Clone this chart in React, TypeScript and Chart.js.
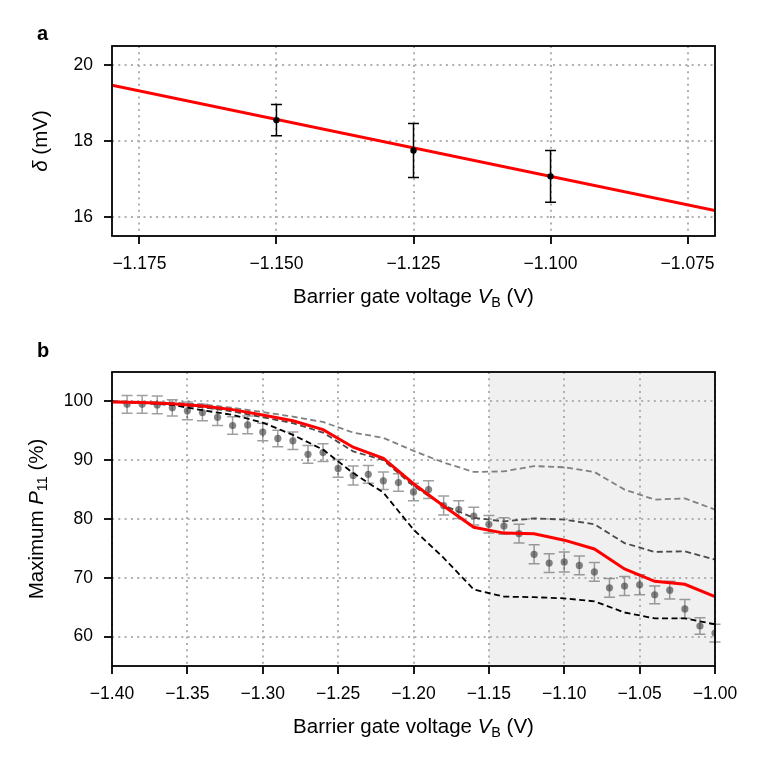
import { useEffect, useRef } from 'react'
import { Chart, registerables } from 'chart.js'

Chart.register(...registerables)

const FONT = '"Liberation Sans", Arial, Helvetica, sans-serif'

// panel a: level splitting vs barrier gate voltage
const aFitV = [-1.18, -1.07]
const aFitDelta = [19.47, 16.17]
const aMeasV = [-1.15, -1.125, -1.1]
const aMeasDelta = [18.55, 17.75, 17.07]
const aMeasErr = [0.41, 0.71, 0.68]
const aXTicks = [-1.175, -1.15, -1.125, -1.1, -1.075]
const aYTicks = [16, 18, 20]

// panel b: maximum P11 vs barrier gate voltage
const bModelV = [-1.4, -1.38, -1.36, -1.34, -1.32, -1.3, -1.28, -1.26, -1.24, -1.22, -1.2, -1.18, -1.16, -1.14, -1.12, -1.1, -1.08, -1.06, -1.04, -1.02, -1.0]
const bModelP = [99.9, 99.8, 99.6, 99.2, 98.6, 97.7, 96.7, 95.2, 92.2, 90.3, 86.0, 82.2, 78.6, 77.6, 77.5, 76.4, 74.9, 71.5, 69.4, 68.9, 66.8]
const bUpperP = [100.0, 99.9, 99.8, 99.5, 98.9, 98.2, 97.4, 96.5, 94.7, 93.8, 91.6, 89.6, 88.0, 88.1, 89.0, 88.8, 88.0, 85.0, 83.3, 83.5, 81.6]
const bMiddleP = [99.9, 99.7, 99.4, 99.0, 98.3, 97.3, 96.3, 94.7, 91.5, 90.0, 85.6, 82.3, 80.2, 79.6, 80.1, 79.9, 79.1, 75.9, 74.4, 74.5, 73.1]
const bLowerP = [100.0, 99.8, 99.4, 98.5, 97.7, 96.4, 94.3, 91.8, 87.8, 84.5, 78.2, 73.4, 68.0, 66.8, 66.7, 66.5, 66.0, 64.1, 63.1, 63.1, 62.1]
const bMeasV = [-1.39, -1.38, -1.37, -1.36, -1.35, -1.34, -1.33, -1.32, -1.31, -1.3, -1.29, -1.28, -1.27, -1.26, -1.25, -1.24, -1.23, -1.22, -1.21, -1.2, -1.19, -1.18, -1.17, -1.16, -1.15, -1.14, -1.13, -1.12, -1.11, -1.1, -1.09, -1.08, -1.07, -1.06, -1.05, -1.04, -1.03, -1.02, -1.01, -1.0]
const bMeasP = [99.5, 99.5, 99.4, 98.9, 98.4, 98.1, 97.3, 95.9, 96.0, 94.8, 93.7, 93.3, 91.0, 91.3, 88.6, 87.4, 87.6, 86.5, 86.2, 84.6, 85.0, 82.3, 81.6, 80.5, 79.1, 78.8, 77.5, 74.0, 72.5, 72.7, 72.1, 71.0, 68.3, 68.6, 68.8, 67.1, 67.9, 64.7, 61.8, 60.6]
const bMeasErr = [1.5, 1.5, 1.5, 1.4, 1.5, 1.4, 1.4, 1.5, 1.5, 1.5, 1.4, 1.5, 1.5, 1.5, 1.5, 1.6, 1.5, 1.5, 1.5, 1.5, 1.5, 1.6, 1.5, 1.5, 1.5, 1.4, 1.6, 1.6, 1.6, 1.7, 1.6, 1.6, 1.6, 1.6, 1.7, 1.5, 1.5, 1.6, 1.4, 1.5]
const bShade = [-1.15, -1.0]
const bXTicks = [-1.4, -1.35, -1.3, -1.25, -1.2, -1.15, -1.1, -1.05, -1.0]
const bYTicks = [60, 70, 80, 90, 100]

type Part = { t: string; s?: 'i' | 'sub' }

const xTitle: Part[] = [{ t: 'Barrier gate voltage ' }, { t: 'V', s: 'i' }, { t: 'B', s: 'sub' }, { t: ' (V)' }]
const aYTitle: Part[] = [{ t: 'δ', s: 'i' }, { t: ' (mV)' }]
const bYTitle: Part[] = [{ t: 'Maximum ' }, { t: 'P', s: 'i' }, { t: '11', s: 'sub' }, { t: ' (%)' }]

function drawRich(ctx: CanvasRenderingContext2D, parts: Part[], cx: number, cy: number, size: number, rotate: boolean) {
  const fontFor = (s?: string) =>
    s === 'i' ? `italic ${size}px ${FONT}` : s === 'sub' ? `${size * 0.7}px ${FONT}` : `${size}px ${FONT}`
  ctx.save()
  ctx.translate(cx, cy)
  if (rotate) ctx.rotate(-Math.PI / 2)
  let total = 0
  const widths = parts.map(p => {
    ctx.font = fontFor(p.s)
    const w = ctx.measureText(p.t).width
    total += w
    return w
  })
  let x = -total / 2
  ctx.fillStyle = '#000'
  ctx.textBaseline = 'middle'
  ctx.textAlign = 'left'
  parts.forEach((p, i) => {
    ctx.font = fontFor(p.s)
    ctx.fillText(p.t, x, p.s === 'sub' ? size * 0.3 : 0)
    x += widths[i]
  })
  ctx.restore()
}

function drawErrors(chart: Chart, xs: number[], ys: number[], errs: number[], color: string, cap: number) {
  const { ctx } = chart
  const x = chart.scales.x
  const y = chart.scales.y
  ctx.save()
  ctx.strokeStyle = color
  ctx.lineWidth = 1.5
  xs.forEach((v, i) => {
    const px = x.getPixelForValue(v)
    const top = y.getPixelForValue(ys[i] + errs[i])
    const bot = y.getPixelForValue(ys[i] - errs[i])
    ctx.beginPath()
    ctx.moveTo(px, top)
    ctx.lineTo(px, bot)
    ctx.moveTo(px - cap, top)
    ctx.lineTo(px + cap, top)
    ctx.moveTo(px - cap, bot)
    ctx.lineTo(px + cap, bot)
    ctx.stroke()
  })
  ctx.restore()
}

function fmt(digits: number) {
  return (v: number | string) => Number(v).toFixed(digits).replace('-', '\u2212')
}

function axes(xMin: number, xMax: number, xTicks: number[], xDigits: number, xHeight: number, yMin: number, yMax: number, yTicks: number[]) {
  const grid = {
    color: '#b0b0b0',
    lineWidth: 2,
    drawTicks: true,
    tickLength: 8,
    tickColor: '#000',
    tickWidth: 1.8,
    tickBorderDash: [],
  }
  const border = { display: false, dash: [2, 4.3] }
  const ticks = { color: '#000', font: { family: FONT, size: 17.5 }, maxRotation: 0, autoSkip: false }
  return {
    x: {
      type: 'linear' as const,
      min: xMin,
      max: xMax,
      grid,
      border,
      ticks: { ...ticks, padding: 10, callback: fmt(xDigits) },
      afterBuildTicks: (s: any) => { s.ticks = xTicks.map(value => ({ value })) },
      afterFit: (s: any) => { s.height = xHeight },
    },
    y: {
      type: 'linear' as const,
      min: yMin,
      max: yMax,
      grid,
      border,
      ticks: { ...ticks, padding: 11, callback: fmt(0) },
      afterBuildTicks: (s: any) => { s.ticks = yTicks.map(value => ({ value })) },
      afterFit: (s: any) => { s.width = 112 },
    },
  }
}

function frame(chart: Chart) {
  const { ctx, chartArea: a } = chart
  ctx.save()
  ctx.strokeStyle = '#000'
  ctx.lineWidth = 1.8
  ctx.strokeRect(a.left, a.top, a.right - a.left, a.bottom - a.top)
  ctx.restore()
}

function panelLabel(ctx: CanvasRenderingContext2D, text: string, x: number, y: number) {
  ctx.save()
  ctx.font = `bold 20px ${FONT}`
  ctx.fillStyle = '#000'
  ctx.textBaseline = 'alphabetic'
  ctx.fillText(text, x, y)
  ctx.restore()
}

const pts = (xs: number[], ys: number[]) => xs.map((x, i) => ({ x, y: ys[i] }))

function PanelA() {
  const ref = useRef<HTMLCanvasElement>(null)
  useEffect(() => {
    if (!ref.current) return
    const chart = new Chart(ref.current, {
      type: 'line',
      data: {
        datasets: [
          {
            data: pts(aMeasV, aMeasDelta),
            showLine: false,
            pointRadius: 3.2,
            pointBackgroundColor: '#000',
            pointBorderWidth: 0,
            order: 0,
          },
          {
            data: pts(aFitV, aFitDelta),
            borderColor: '#ff0000',
            borderWidth: 3,
            pointRadius: 0,
            order: 1,
          },
        ],
      },
      options: {
        responsive: false,
        animation: false,
        events: [],
        layout: { padding: { top: 46, right: 47, bottom: 0, left: 0 } },
        plugins: { legend: { display: false }, tooltip: { enabled: false } },
        scales: axes(-1.18, -1.07, aXTicks, 3, 94, 15.5, 20.5, aYTicks) as any,
      },
      plugins: [
        {
          id: 'decorA',
          afterDatasetDraw(c: Chart, args: any) {
            if (args.index === 1) drawErrors(c, aMeasV, aMeasDelta, aMeasErr, '#000', 5.5)
          },
          afterDraw(c: Chart) {
            frame(c)
            const a = c.chartArea
            drawRich(c.ctx, xTitle, (a.left + a.right) / 2, 297, 20.5, false)
            drawRich(c.ctx, aYTitle, 41, (a.top + a.bottom) / 2, 20.5, true)
            panelLabel(c.ctx, 'a', 37, 40)
          },
        },
      ],
    })
    return () => chart.destroy()
  }, [])
  return <canvas ref={ref} width={762} height={330} style={{ position: 'absolute', left: 0, top: 0, width: 762, height: 330 }} />
}

function PanelB() {
  const ref = useRef<HTMLCanvasElement>(null)
  useEffect(() => {
    if (!ref.current) return
    const dashed = (ys: number[], color: string, order: number) => ({
      data: pts(bModelV, ys),
      borderColor: color,
      borderWidth: 1.8,
      borderDash: [6, 3.5],
      pointRadius: 0,
      order,
    })
    const chart = new Chart(ref.current, {
      type: 'line',
      data: {
        datasets: [
          {
            data: pts(bModelV, bModelP),
            borderColor: '#ff0000',
            borderWidth: 3,
            pointRadius: 0,
            order: 0,
          },
          dashed(bLowerP, '#000000', 1),
          dashed(bMiddleP, '#4a4a4a', 2),
          dashed(bUpperP, '#808080', 3),
          {
            data: pts(bMeasV, bMeasP),
            showLine: false,
            pointRadius: 3.6,
            pointBackgroundColor: 'rgba(60,60,60,0.62)',
            pointBorderWidth: 0,
            order: 4,
          },
        ],
      },
      options: {
        responsive: false,
        animation: false,
        events: [],
        layout: { padding: { top: 42, right: 47, bottom: 0, left: 0 } },
        plugins: { legend: { display: false }, tooltip: { enabled: false } },
        scales: axes(-1.4, -1.0, bXTicks, 2, 99, 55, 105, bYTicks) as any,
      },
      plugins: [
        {
          id: 'decorB',
          beforeDraw(c: Chart) {
            const { ctx, chartArea: a } = c
            const x0 = c.scales.x.getPixelForValue(bShade[0])
            const x1 = c.scales.x.getPixelForValue(bShade[1])
            ctx.save()
            ctx.fillStyle = '#f0f0f0'
            ctx.fillRect(x0, a.top, x1 - x0, a.bottom - a.top)
            ctx.restore()
          },
          beforeDatasetsDraw(c: Chart) {
            drawErrors(c, bMeasV, bMeasP, bMeasErr, 'rgba(80,80,80,0.55)', 5.5)
          },
          afterDraw(c: Chart) {
            frame(c)
            const a = c.chartArea
            drawRich(c.ctx, xTitle, (a.left + a.right) / 2, 397, 20.5, false)
            drawRich(c.ctx, bYTitle, 37, (a.top + a.bottom) / 2, 20.5, true)
            panelLabel(c.ctx, 'b', 37, 27)
          },
        },
      ],
    })
    return () => chart.destroy()
  }, [])
  return <canvas ref={ref} width={762} height={435} style={{ position: 'absolute', left: 0, top: 330, width: 762, height: 435 }} />
}

export default function App() {
  return (
    <div style={{ position: 'absolute', left: 0, top: 0, width: 762, height: 765, background: '#fff' }}>
      <PanelA />
      <PanelB />
    </div>
  )
}
